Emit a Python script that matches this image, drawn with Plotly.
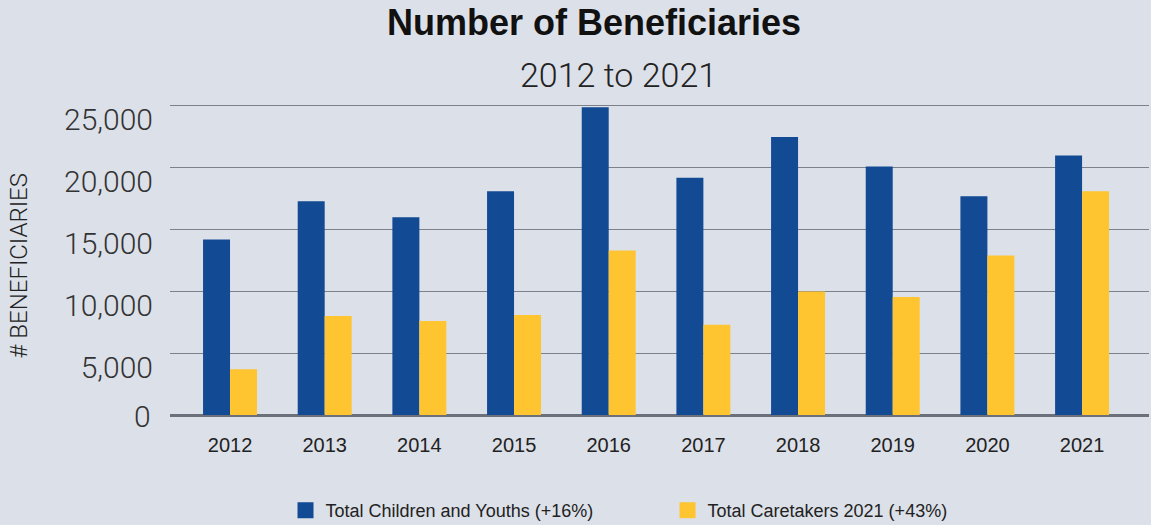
import plotly.graph_objects as go

years = ["2012", "2013", "2014", "2015", "2016", "2017", "2018", "2019", "2020", "2021"]
children_youths = [14200, 17300, 16000, 18100, 24900, 19200, 22500, 20100, 17700, 21000]
caretakers = [3700, 8000, 7600, 8100, 13300, 7300, 10000, 9550, 12900, 18100]
y_ticks = [5000, 10000, 15000, 20000, 25000]
y_tick_labels = ["5,000", "10,000", "15,000", "20,000", "25,000"]
zero_label = "0"
series_names = ["Total Children and Youths (+16%)", "Total Caretakers 2021 (+43%)"]

BLUE = "#134A94"
YELLOW = "#FFC531"
BG = "#DCE0E8"
FONT = "Roboto, Liberation Sans, sans-serif"
SANS = "Liberation Sans, Arial, sans-serif"

fig = go.Figure()
for vals, name, col in [(children_youths, series_names[0], BLUE), (caretakers, series_names[1], YELLOW)]:
    fig.add_trace(go.Bar(x=years, y=vals, name=name, showlegend=False, legendgroup=name,
                         marker=dict(color=col, line=dict(width=0))))
for name, col in [(series_names[0], BLUE), (series_names[1], YELLOW)]:
    fig.add_trace(go.Scatter(x=[None], y=[None], mode="markers", name=name, legendgroup=name,
                             marker=dict(symbol="square", size=22, color=col)))

fig.update_layout(
    width=1151, height=525,
    paper_bgcolor=BG, plot_bgcolor=BG,
    barmode="group", bargap=0.43, bargroupgap=0,
    margin=dict(l=170, r=2, t=104, b=110, autoexpand=False),
    font=dict(family=FONT, color="#222"),
    annotations=[
        dict(text="<b>Number of Beneficiaries</b>", xref="paper", yref="paper",
             x=0.5, y=1, yshift=82, xanchor="center", yanchor="middle", showarrow=False,
             font=dict(size=36, color="#111", family=SANS), xshift=-66),
        dict(text="2012 to 2021", xref="paper", yref="paper",
             x=0.5, y=1, yshift=29, xanchor="center", yanchor="middle", showarrow=False,
             font=dict(size=34, color="#222", family=FONT, weight=300), xshift=-41),
        dict(text="# BENEFICIARIES", xref="paper", yref="paper",
             x=0, y=0.5, xshift=-152, yshift=-6, textangle=-90,
             xanchor="center", yanchor="middle", showarrow=False,
             font=dict(size=24, color="#222", family=FONT, weight=300)),
        dict(text=zero_label, xref="paper", yref="y", x=0, y=0, xshift=-17, yshift=-1,
             xanchor="right", yanchor="middle", showarrow=False,
             font=dict(size=30, color="#333", family=FONT, weight=300)),
    ],
    xaxis=dict(
        type="category", range=[-0.634, 9.707],
        showgrid=False, showline=False, zeroline=False,
        ticks="", tickfont=dict(size=20, color="#222", family=SANS),
        ticklabelstandoff=16,
    ),
    yaxis=dict(
        range=[0, 25160], tickvals=y_ticks, ticktext=y_tick_labels,
        showgrid=True, gridcolor="#7C818C", gridwidth=1.3,
        zeroline=True, zerolinecolor="#6B707A", zerolinewidth=3,
        showline=False, ticks="",
        tickfont=dict(size=30, color="#333", family=FONT, weight=300),
        ticklabelstandoff=16, ticklabelshift=14,
    ),
    legend=dict(
        orientation="h", x=0.118, xanchor="left", y=-0.307, yanchor="middle",
        font=dict(size=18, color="#222", family=SANS),
        itemwidth=30, traceorder="normal", tracegroupgap=0,
        entrywidth=337, entrywidthmode="pixels",
    ),
)

fig.write_html("out.html", config={"displayModeBar": False},
               post_script="document.body.style.margin='0';document.body.style.overflow='hidden';")
